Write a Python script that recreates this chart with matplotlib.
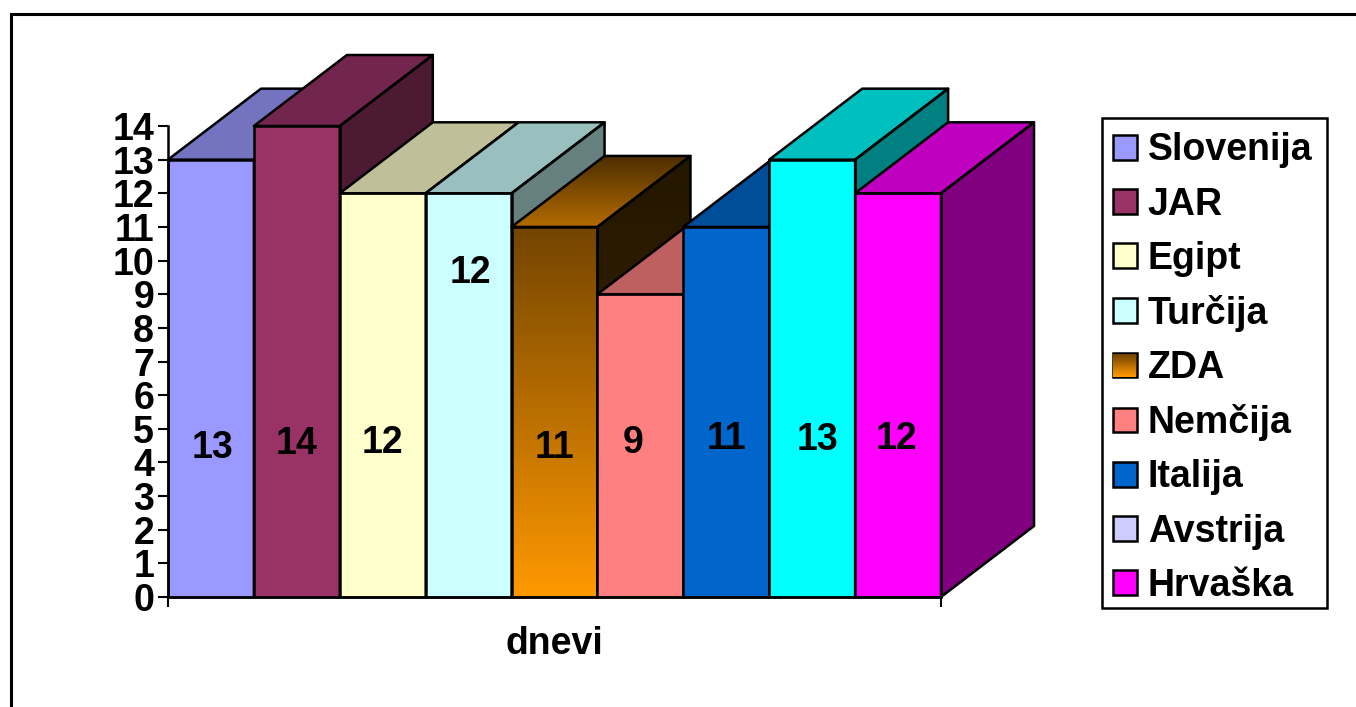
import numpy as np
import matplotlib
matplotlib.use('Agg')
from matplotlib import pyplot as plt
from matplotlib.colors import LinearSegmentedColormap, to_rgb
from matplotlib.lines import Line2D
from matplotlib.patches import Patch, Polygon, Rectangle

countries = ["Slovenija", "JAR", "Egipt", "Turčija", "ZDA", "Nemčija", "Italija", "Avstrija", "Hrvaška"]
days = [13, 14, 12, 12, 11, 9, 11, 13, 12]
bar_colors = ["#9999FF", "#993366", "#FFFFCC", "#CCFFFF", "#FF9900", "#FF8080", "#0066CC", "#00FFFF", "#FF00FF"]
legend_colors = ["#9999FF", "#993366", "#FFFFCC", "#CCFFFF", "#FF9900", "#FF8080", "#0066CC", "#CCCCFF", "#FF00FF"]
y_ticks = list(range(15))
x_label = "dnevi"

# where each value label sits: days above the floor, and sideways shift in bar widths
label_heights = [4.43, 4.56, 4.58, 9.63, 4.43, 4.58, 4.70, 4.67, 4.70]
label_shifts = [0.02, 0.0, 0.0, 0.02, 0.0, -0.08, 0.0, 0.06, -0.02]

GRADIENT_BAR = 4
# depth of the fake 3D boxes, in axis units
DEPTH_X = 1.083
DEPTH_Y = 2.11
SIDE_SHADE = 0.5
TOP_SHADE = 0.75
EDGE_W = 1.8
FONT_SIZE = 27

plt.rcParams['font.family'] = ['Liberation Sans', 'DejaVu Sans']
plt.rcParams['font.weight'] = 'bold'

W, H = 1356, 707
fig = plt.figure(figsize=(W / 100, H / 100), dpi=100, facecolor='white')

# outer border: only the left and top edges fall on the canvas
fig.add_artist(Line2D([10.5 / W, 10.5 / W, 1.02], [-0.02, (H - 13.5) / H, (H - 13.5) / H],
                      transform=fig.transFigure, color='black', linewidth=2.2, solid_joinstyle='miter'))

ax = fig.add_axes([168 / W, (H - 597) / H, 773 / W, 471 / H])
ax.set_facecolor('none')


def shade(color, factor):
    return tuple(c * factor for c in to_rgb(color))


def gradient_fill(polygon, top_color, bottom_color, zorder):
    # vertical gradient clipped to a polygon, used for the ZDA box
    ax.add_patch(polygon)
    xs, ys = polygon.get_xy().T
    cmap = LinearSegmentedColormap.from_list("grad", [top_color, bottom_color])
    img = ax.imshow(np.linspace(0, 1, 256).reshape(-1, 1), cmap=cmap, aspect='auto', origin='upper',
                    extent=(xs.min(), xs.max(), ys.min(), ys.max()), zorder=zorder, clip_on=True)
    img.set_clip_path(polygon)


for i, (value, color) in enumerate(zip(days, bar_colors)):
    z = 3 + i
    x0, x1 = i, i + 1
    front = [(x0, 0), (x1, 0), (x1, value), (x0, value)]
    top = [(x0, value), (x1, value), (x1 + DEPTH_X, value + DEPTH_Y), (x0 + DEPTH_X, value + DEPTH_Y)]
    side = [(x1, 0), (x1 + DEPTH_X, DEPTH_Y), (x1 + DEPTH_X, value + DEPTH_Y), (x1, value)]

    if i == GRADIENT_BAR:
        for verts, c_top, c_bottom in [(front, "#734400", "#FF9900"),
                                       (top, "#4D2E00", "#B36B00"),
                                       (side, "#241700", "#3D2600")]:
            gradient_fill(Polygon(verts, closed=True, facecolor='none', edgecolor='none', zorder=z,
                                  clip_on=False), c_top, c_bottom, z)
    else:
        ax.add_patch(Polygon(front, closed=True, facecolor=color, edgecolor='none', zorder=z, clip_on=False))
        ax.add_patch(Polygon(top, closed=True, facecolor=shade(color, TOP_SHADE), edgecolor='none', zorder=z,
                             clip_on=False))
        ax.add_patch(Polygon(side, closed=True, facecolor=shade(color, SIDE_SHADE), edgecolor='none', zorder=z,
                             clip_on=False))
    for verts in (front, top, side):
        ax.add_patch(Polygon(verts, closed=True, fill=False, edgecolor='black', linewidth=EDGE_W,
                             joinstyle='round', zorder=z + 0.5, clip_on=False))

for i, (value, height, shift) in enumerate(zip(days, label_heights, label_shifts)):
    ax.text(i + 0.5 + shift, height, str(value), ha='center', va='center', fontsize=FONT_SIZE,
            fontweight='bold', color='black', zorder=30)

ax.set_xlim(0, len(days))
ax.set_ylim(0, 14)
ax.set_yticks(y_ticks)
ax.set_xticks([0, len(days)])
ax.set_xticklabels([])
ax.tick_params(axis='y', length=7, width=1.5, pad=3, labelsize=FONT_SIZE)
ax.tick_params(axis='x', length=7, width=1.5)
for name in ('top', 'right'):
    ax.spines[name].set_visible(False)
for name in ('left', 'bottom'):
    ax.spines[name].set_linewidth(1.8)
    ax.spines[name].set_zorder(20)
ax.text(0.5, -0.1, x_label, transform=ax.transAxes, ha='center', va='center', fontsize=FONT_SIZE,
        fontweight='bold')

# legend frame drawn apart so the padding under the last row can be tighter than above the first
fig.add_artist(Rectangle((1101.5 / W, (H - 607.5) / H), 225.5 / W, 489.5 / H, transform=fig.transFigure,
                         facecolor='white', edgecolor='black', linewidth=1.8))
handles = [Patch(facecolor=c, edgecolor='black', linewidth=EDGE_W, label=name)
           for c, name in zip(legend_colors, countries)]
leg = fig.legend(handles=handles, loc='upper left', bbox_to_anchor=(1099 / W, (H - 119) / H), ncol=1,
                 fontsize=FONT_SIZE, frameon=False, borderaxespad=0, borderpad=0.36, labelspacing=0.484,
                 handlelength=0.64, handleheight=0.64, handletextpad=0.3)

fig.canvas.draw()
# swatch of ZDA carries the same gradient as its box
box = leg.get_patches()[GRADIENT_BAR].get_window_extent()
cmap = LinearSegmentedColormap.from_list("swatch", ["#734400", "#FF9900"])
swatch = cmap(np.linspace(0, 1, int(box.height) - 1))[:, np.newaxis, :]
swatch = np.repeat(swatch, int(box.width) - 1, axis=1)
fig.figimage(swatch, xo=int(box.x0) + 1, yo=int(box.y0) + 1, origin='upper', zorder=10)

fig.savefig('out.png', dpi=100, facecolor='white')
